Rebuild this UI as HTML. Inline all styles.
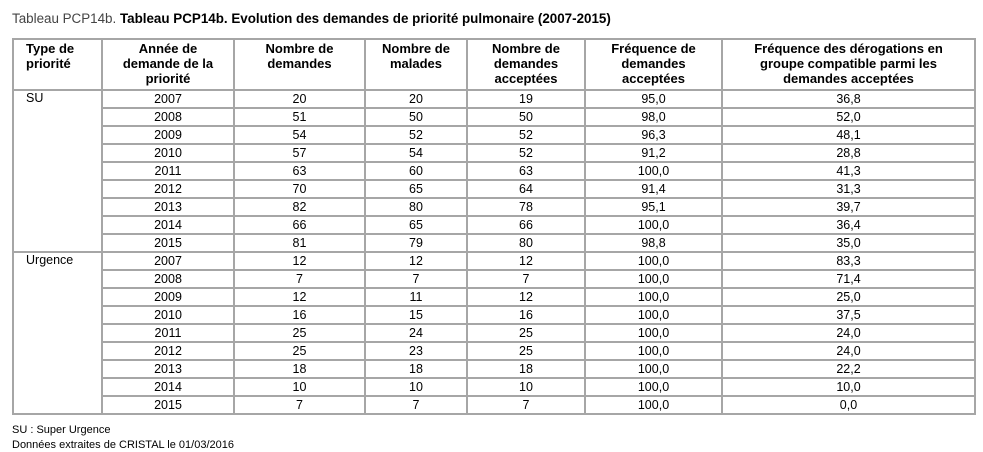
<!DOCTYPE html>
<html><head><meta charset="utf-8"><style>
body{margin:0;width:983px;height:452px;background:#fff;font-family:"Liberation Sans",Arial,sans-serif;color:#000;overflow:hidden;position:relative}
.t{position:absolute;left:12px;top:11px;font-size:13.4px;font-weight:bold;white-space:nowrap}
.t span{font-weight:normal;color:#444}
table{position:absolute;left:12px;top:38px;border-collapse:collapse;table-layout:fixed;width:962px}
td,th{border:2px solid #a6a6a6;padding:0 4px;font-size:12.5px;line-height:15px}
th{font-weight:bold;vertical-align:top;height:48px;padding-top:1px;line-height:15px;font-size:13px}
th:first-child{text-align:left;padding-left:12px}
td{text-align:center;height:16px;padding:0 4px;line-height:14px}
td.l{text-align:left;vertical-align:top;padding-left:12px}
.f{position:absolute;left:12px;font-size:11px}
</style></head><body>
<div class="t"><span>Tableau PCP14b.</span> Tableau PCP14b. Evolution des demandes de priorité pulmonaire (2007-2015)</div>
<table>
<colgroup><col style="width:89px"><col style="width:132px"><col style="width:131px"><col style="width:102px"><col style="width:118px"><col style="width:137px"><col style="width:253px"></colgroup>
<tr><th>Type de<br>priorité</th><th>Année de<br>demande de la<br>priorité</th><th>Nombre de<br>demandes</th><th>Nombre de<br>malades</th><th>Nombre de<br>demandes<br>acceptées</th><th>Fréquence de<br>demandes<br>acceptées</th><th>Fréquence des dérogations en<br>groupe compatible parmi les<br>demandes acceptées</th></tr>
<tr><td class="l" rowspan="9">SU</td><td>2007</td><td>20</td><td>20</td><td>19</td><td>95,0</td><td>36,8</td></tr>
<tr><td>2008</td><td>51</td><td>50</td><td>50</td><td>98,0</td><td>52,0</td></tr>
<tr><td>2009</td><td>54</td><td>52</td><td>52</td><td>96,3</td><td>48,1</td></tr>
<tr><td>2010</td><td>57</td><td>54</td><td>52</td><td>91,2</td><td>28,8</td></tr>
<tr><td>2011</td><td>63</td><td>60</td><td>63</td><td>100,0</td><td>41,3</td></tr>
<tr><td>2012</td><td>70</td><td>65</td><td>64</td><td>91,4</td><td>31,3</td></tr>
<tr><td>2013</td><td>82</td><td>80</td><td>78</td><td>95,1</td><td>39,7</td></tr>
<tr><td>2014</td><td>66</td><td>65</td><td>66</td><td>100,0</td><td>36,4</td></tr>
<tr><td>2015</td><td>81</td><td>79</td><td>80</td><td>98,8</td><td>35,0</td></tr>
<tr><td class="l" rowspan="9">Urgence</td><td>2007</td><td>12</td><td>12</td><td>12</td><td>100,0</td><td>83,3</td></tr>
<tr><td>2008</td><td>7</td><td>7</td><td>7</td><td>100,0</td><td>71,4</td></tr>
<tr><td>2009</td><td>12</td><td>11</td><td>12</td><td>100,0</td><td>25,0</td></tr>
<tr><td>2010</td><td>16</td><td>15</td><td>16</td><td>100,0</td><td>37,5</td></tr>
<tr><td>2011</td><td>25</td><td>24</td><td>25</td><td>100,0</td><td>24,0</td></tr>
<tr><td>2012</td><td>25</td><td>23</td><td>25</td><td>100,0</td><td>24,0</td></tr>
<tr><td>2013</td><td>18</td><td>18</td><td>18</td><td>100,0</td><td>22,2</td></tr>
<tr><td>2014</td><td>10</td><td>10</td><td>10</td><td>100,0</td><td>10,0</td></tr>
<tr><td>2015</td><td>7</td><td>7</td><td>7</td><td>100,0</td><td>0,0</td></tr>
</table>
<div class="f" style="top:424px">SU : Super Urgence</div>
<div class="f" style="top:439px">Données extraites de CRISTAL le 01/03/2016</div>
</body></html>
